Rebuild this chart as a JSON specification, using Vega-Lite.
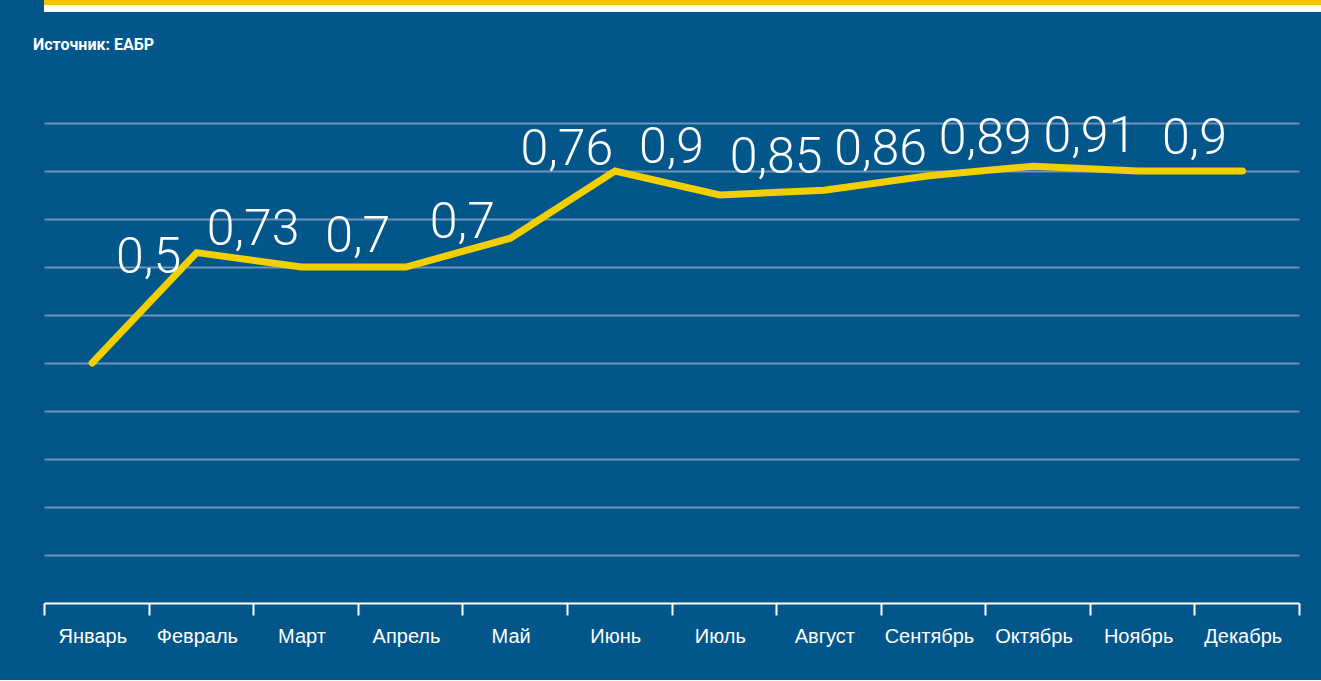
{
  "$schema": "https://vega.github.io/schema/vega-lite/v6.json",
  "background": "#02568a",
  "padding": {"left": 10, "top": 0, "right": 0, "bottom": 34},
  "config": {
    "view": {"stroke": null},
    "locale": {"number": {"decimal": ",", "thousands": " ", "grouping": [3], "currency": ["", ""]}}
  },
  "columns": 1,
  "align": "none",
  "spacing": 24,
  "concat": [
    {
      "spacing": 0,
      "vconcat": [
        {"width": 1277, "height": 5, "data": {"values": [{}]}, "mark": {"type": "rect", "color": "#f4c400"}, "view": {"fill": "#f4c400", "stroke": null}},
        {"width": 1277, "height": 7, "data": {"values": [{}]}, "mark": {"type": "rect", "color": "#ffffff"}, "view": {"fill": "#ffffff", "stroke": null}}
      ]
    },
    {
      "width": 1255,
      "height": 480,
      "title": {"text": "Источник: ЕАБР", "anchor": "start", "frame": "group", "dx": -11, "offset": 59, "font": "Roboto", "fontWeight": "bold", "fontSize": 16, "color": "#ffffff"},
      "data": {"values": [
        {"month": "Январь", "value": 0.5, "labelAt": 0.6875},
        {"month": "Февраль", "value": 0.73, "labelAt": 0.746},
        {"month": "Март", "value": 0.7, "labelAt": 0.731},
        {"month": "Апрель", "value": 0.7, "labelAt": 0.76},
        {"month": "Май", "value": 0.76, "labelAt": 0.9125},
        {"month": "Июнь", "value": 0.9, "labelAt": 0.917},
        {"month": "Июль", "value": 0.85, "labelAt": 0.896},
        {"month": "Август", "value": 0.86, "labelAt": 0.9125},
        {"month": "Сентябрь", "value": 0.89, "labelAt": 0.935},
        {"month": "Октябрь", "value": 0.91, "labelAt": 0.94},
        {"month": "Ноябрь", "value": 0.9, "labelAt": 0.935},
        {"month": "Декабрь", "value": 0.9}
      ]},
      "layer": [
        {
          "mark": {"type": "line", "color": "#f2d000", "strokeWidth": 7, "strokeCap": "round", "strokeJoin": "miter"},
          "encoding": {
            "x": {
              "field": "month", "type": "nominal", "sort": null, "bandPosition": 0.46,
              "scale": {"type": "band", "paddingInner": 0, "paddingOuter": 0, "domain": ["Январь", "Февраль", "Март", "Апрель", "Май", "Июнь", "Июль", "Август", "Сентябрь", "Октябрь", "Ноябрь", "Декабрь"]},
              "axis": {"title": null, "tickBand": "extent", "grid": false, "domainColor": "#ffffff", "domainWidth": 2, "tickColor": "#ffffff", "tickWidth": 2, "tickSize": 12, "labelColor": "#ffffff", "labelFont": "Liberation Sans", "labelFontSize": 20, "labelPadding": 11, "labelAngle": 0, "labelOffset": -4}
            },
            "y": {
              "field": "value", "type": "quantitative",
              "scale": {"domain": [0, 1], "nice": false},
              "axis": {"title": null, "values": [0.1, 0.2, 0.3, 0.4, 0.5, 0.6, 0.7, 0.8, 0.9, 1.0], "grid": true, "gridColor": "#7191b9", "gridWidth": 2, "labels": false, "ticks": false, "domain": false, "minExtent": 34, "maxExtent": 34}
            }
          }
        },
        {
          "transform": [{"filter": "isValid(datum.labelAt)"}],
          "mark": {"type": "text", "color": "#ffffff", "font": "Roboto", "fontWeight": 300, "fontSize": 50, "align": "center", "baseline": "alphabetic"},
          "encoding": {
            "x": {"field": "month", "type": "nominal", "sort": null, "bandPosition": 1},
            "y": {"field": "labelAt", "type": "quantitative"},
            "text": {"field": "value", "type": "quantitative", "format": ".2~f"}
          }
        }
      ]
    }
  ]
}
